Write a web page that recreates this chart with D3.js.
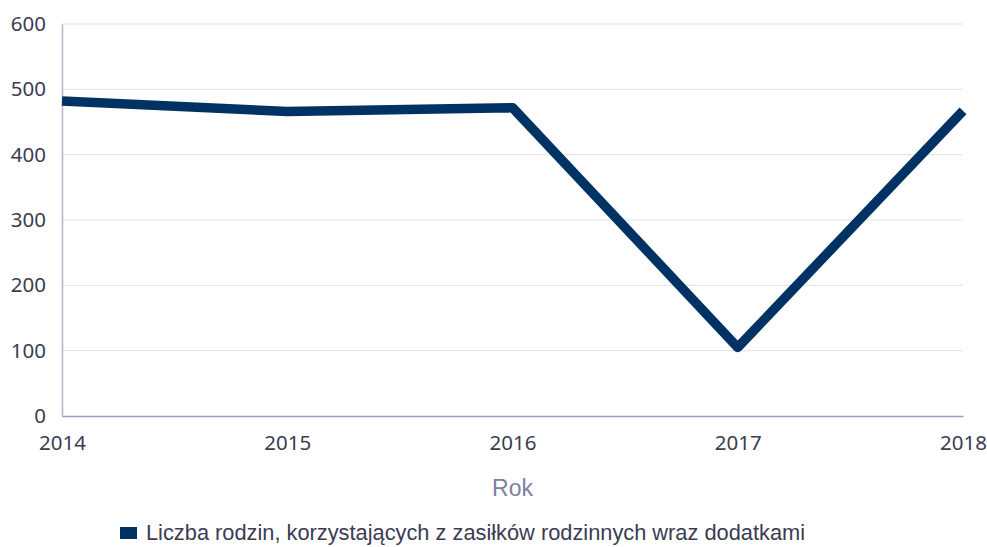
<!DOCTYPE html>
<html>
<head>
<meta charset="utf-8">
<script src="https://cdn.jsdelivr.net/npm/d3@7"></script>
<style>
  body { margin: 0; background: #fff; }
  .tick text { font-family: "Noto Sans", sans-serif; font-size: 20.5px; fill: #3b3c52; }
  .label { font-family: "Liberation Sans", Arial, sans-serif; font-size: 23px; fill: #7d80a3; }
  .legend { font-family: "Liberation Sans", Arial, sans-serif; font-size: 21.8px; fill: #3b3c52; }
</style>
</head>
<body>
<div id="chart"></div>
<script>
// data
var years = [2014, 2015, 2016, 2017, 2018];
var families = [482, 466, 472, 105, 467];
var yTicks = [0, 100, 200, 300, 400, 500, 600];
var seriesName = "Liczba rodzin, korzystających z zasiłków rodzinnych wraz dodatkami";

var w = 987,
    h = 547;

var padLeft = 62, padRight = 963, padTop = 24, padBottom = 416; // plot box edges

var svg = d3.select("#chart")
    .append("svg")
    .attr("width", w)
    .attr("height", h);

var x = d3.scalePoint()
    .domain(years)
    .range([padLeft, padRight]);

var y = d3.scaleLinear()
    .domain([0, 600])
    .range([padBottom, padTop]);

// gridlines
svg.append("g")
    .selectAll("line")
    .data(yTicks.slice(1))
    .enter()
    .append("line")
    .attr("x1", padLeft)
    .attr("x2", padRight)
    .attr("y1", function (d) { return y(d); })
    .attr("y2", function (d) { return y(d); })
    .attr("stroke", "#e1e1ec")
    .attr("stroke-width", 1);

// y axis
var yAxis = d3.axisLeft(y)
    .tickValues(yTicks)
    .tickSize(0)
    .tickPadding(16);

var gy = svg.append("g")
    .attr("transform", "translate(" + padLeft + ",0)")
    .call(yAxis);
gy.select(".domain").attr("stroke", "#b4b6cf").attr("stroke-width", 1.5);

// x axis
var xAxis = d3.axisBottom(x)
    .tickSize(0)
    .tickPadding(19);

var gx = svg.append("g")
    .attr("transform", "translate(0," + padBottom + ")")
    .call(xAxis);
gx.select(".domain").attr("stroke", "#9a9dbd").attr("stroke-width", 1.5);

// x axis label
svg.append("text")
    .attr("class", "label")
    .attr("x", (padLeft + padRight) / 2)
    .attr("y", 496)
    .attr("text-anchor", "middle")
    .text("Rok");

// the line
var line = d3.line()
    .x(function (d, i) { return x(years[i]); })
    .y(function (d) { return y(d); });

svg.append("path")
    .datum(families)
    .attr("d", line)
    .attr("fill", "none")
    .attr("stroke", "#003263")
    .attr("stroke-width", 9.5)
    .attr("stroke-linejoin", "round");

// legend
svg.append("rect")
    .attr("x", 120)
    .attr("y", 527)
    .attr("width", 17)
    .attr("height", 12)
    .attr("fill", "#003263");

svg.append("text")
    .attr("class", "legend")
    .attr("x", 146)
    .attr("y", 540)
    .text(seriesName);
</script>
</body>
</html>
